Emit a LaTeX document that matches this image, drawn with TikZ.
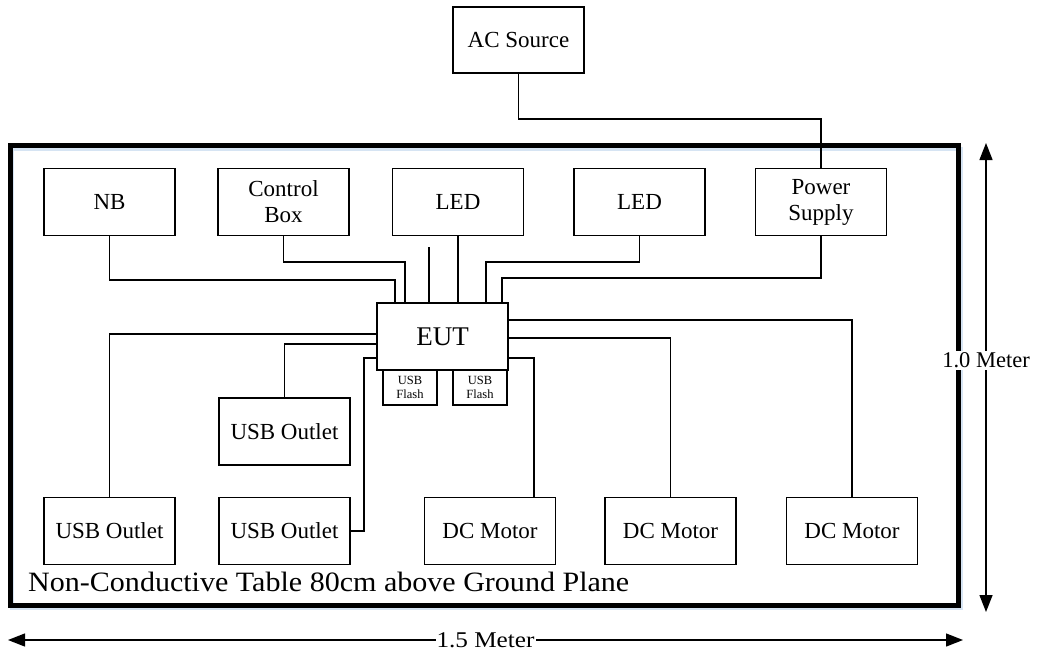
\documentclass[tikz,border=0pt]{standalone}
\usepackage{fontspec}
\usepackage{graphicx}
\setmainfont{Liberation Serif}
\usetikzlibrary{arrows.meta,calc}
\begin{document}
\begin{tikzpicture}[x=1pt,y=-1pt,
  box/.style={draw,line width=1.8pt,minimum width=131pt,minimum height=67pt,inner sep=0pt,align=center,font=\fontsize{23}{26}\selectfont},
  flash/.style={draw,line width=1.8pt,minimum width=54pt,minimum height=35pt,inner sep=0pt,align=center,font=\fontsize{12.5}{14.5}\selectfont},
  wire/.style={line width=1.3pt},
  dimline/.style={line width=1.3pt,{Triangle[length=17pt,width=13pt]}-{Triangle[length=17pt,width=13pt]}},
  dimtext/.style={fill=white,inner xsep=1pt,inner ysep=2pt,font=\fontsize{22.5}{26}\selectfont}
]
\useasboundingbox (0,0) rectangle (1040,653);
% table with light shadow
\draw[line width=4pt,color={rgb,255:red,214;green,228;blue,243}] (12,149) rectangle (961,608);
\node[draw,line width=5pt,minimum width=948pt,minimum height=460pt,inner sep=0pt] (table) at (484,375) {};

% boxes
\node[box,minimum height=66pt] (ac) at (518.5,40) {AC Source};
\node[box] (nb) at (109.5,202) {NB};
\node[box] (cb) at (283.5,202) {Control\\Box};
\node[box] (led1) at (458,202) {LED};
\node[box] (led2) at (639.5,202) {LED};
\node[box] (ps) at (821,202) {Power\\Supply};
\node[box,font=\fontsize{27}{30}\selectfont] (eut) at (442.5,336.5) {EUT};
\node[flash] (f1) at (410,387.5) {USB\\Flash};
\node[flash] (f2) at (480,387.5) {USB\\Flash};
\node[box] (uo1) at (284.5,431.5) {USB Outlet};
\node[box] (uo2) at (109.5,531) {USB Outlet};
\node[box] (uo3) at (284.5,531) {USB Outlet};
\node[box] (dc1) at (490,531) {DC Motor};
\node[box] (dc2) at (670.5,531) {DC Motor};
\node[box] (dc3) at (852,531) {DC Motor};

% connection points
\coordinate (e1) at (395,303);
\coordinate (e2) at (405,303);
\coordinate (e5) at (486,303);
\coordinate (e6) at (502,303);
\coordinate (d0) at (429,247);
\coordinate (dc1in) at ($(dc1.north)+(44,0)$);

% wires
\draw[wire] (ac.south) -- ++(0,45) -| (ps.north);
\draw[wire] (nb.south) |- (395,280) -- (e1);
\draw[wire] (cb.south) |- (405,262) -- (e2);
\draw[wire] (d0) -- (d0 |- eut.north);
\draw[wire] (led1.south) -- (led1.south |- eut.north);
\draw[wire] (led2.south) |- (486,262) -- (e5);
\draw[wire] (ps.south) |- (502,278) -- (e6);
\draw[wire] (eut.east |- 0,320) -| (dc3.north);
\draw[wire] (eut.east |- 0,338) -| (dc2.north);
\draw[wire] (eut.east |- 0,358) -| (dc1in);
\draw[wire] (eut.west |- 0,334) -| (uo2.north);
\draw[wire] (eut.west |- 0,344) -| (uo1.north);
\draw[wire] (eut.west |- 0,358) -- (364,358) |- (uo3.east);

% table label
\node[anchor=west,inner sep=0pt,font=\fontsize{28}{30}\selectfont] (tlabel) at (28,582) {\resizebox{601pt}{\height}{Non-Conductive Table 80cm above Ground Plane}};

% dimensions
\coordinate (h1) at (8,640);
\coordinate (h2) at (963,640);
\draw[dimline] (h1) -- (h2) node[dimtext,pos=0.5] (wlabel) {\resizebox{98pt}{\height}{1.5 Meter}};
\coordinate (v1) at (986,143);
\coordinate (v2) at (986,612);
\draw[dimline] (v1) -- (v2) node[dimtext,pos=0.463] (hlabel) {1.0 Meter};
\end{tikzpicture}
\end{document}
